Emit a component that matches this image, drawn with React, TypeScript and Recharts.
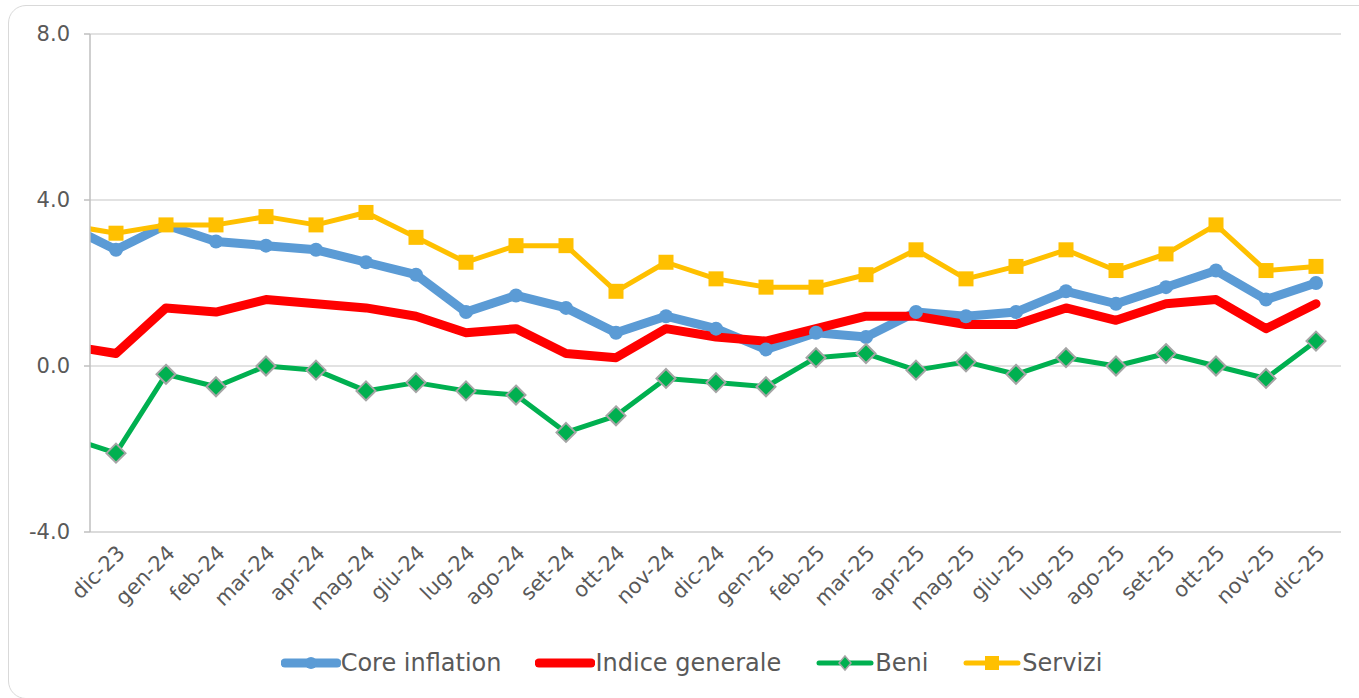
// @ts-nocheck
import React from 'react';
import { LineChart, Line, XAxis, YAxis, CartesianGrid } from 'recharts';

// first month (nov-23) sits outside the visible axis, only its segment shows
const months = [
  'nov-23', 'dic-23', 'gen-24', 'feb-24', 'mar-24', 'apr-24', 'mag-24', 'giu-24',
  'lug-24', 'ago-24', 'set-24', 'ott-24', 'nov-24', 'dic-24', 'gen-25', 'feb-25',
  'mar-25', 'apr-25', 'mag-25', 'giu-25', 'lug-25', 'ago-25', 'set-25', 'ott-25',
  'nov-25', 'dic-25',
];

const coreInflation = [
  3.4, 2.8, 3.4, 3.0, 2.9, 2.8, 2.5, 2.2, 1.3, 1.7, 1.4, 0.8, 1.2, 0.9, 0.4, 0.8,
  0.7, 1.3, 1.2, 1.3, 1.8, 1.5, 1.9, 2.3, 1.6, 2.0,
];
const indiceGenerale = [
  0.5, 0.3, 1.4, 1.3, 1.6, 1.5, 1.4, 1.2, 0.8, 0.9, 0.3, 0.2, 0.9, 0.7, 0.6, 0.9,
  1.2, 1.2, 1.0, 1.0, 1.4, 1.1, 1.5, 1.6, 0.9, 1.5,
];
const beni = [
  -1.7, -2.1, -0.2, -0.5, 0.0, -0.1, -0.6, -0.4, -0.6, -0.7, -1.6, -1.2, -0.3, -0.4, -0.5, 0.2,
  0.3, -0.1, 0.1, -0.2, 0.2, 0.0, 0.3, 0.0, -0.3, 0.6,
];
const servizi = [
  3.4, 3.2, 3.4, 3.4, 3.6, 3.4, 3.7, 3.1, 2.5, 2.9, 2.9, 1.8, 2.5, 2.1, 1.9, 1.9,
  2.2, 2.8, 2.1, 2.4, 2.8, 2.3, 2.7, 3.4, 2.3, 2.4,
];

const yTicks = [-4, 0, 4, 8];

const data = months.map((m, i) => ({
  idx: i,
  mese: m,
  core: coreInflation[i],
  indice: indiceGenerale[i],
  beni: beni[i],
  servizi: servizi[i],
}));

const xTicks = months.slice(1).map((_, i) => i + 1);

const FONT = '"DejaVu Sans", Verdana, sans-serif';
const BLUE = '#5B9BD5';
const RED = '#FF0000';
const GREEN = '#00B050';
const YELLOW = '#FFC000';

const CircleDot = (props) => {
  const { cx, cy, index } = props;
  if (cx == null || cy == null) return <g key={`c${index}`} />;
  return <circle key={`c${index}`} cx={cx} cy={cy} r={7} fill={BLUE} />;
};

const DiamondDot = (props) => {
  const { cx, cy, index } = props;
  if (cx == null || cy == null) return <g key={`d${index}`} />;
  const s = 9.5;
  return (
    <path
      key={`d${index}`}
      d={`M${cx},${cy - s} L${cx + s},${cy} L${cx},${cy + s} L${cx - s},${cy} Z`}
      fill={GREEN}
      stroke="#A5A5A5"
      strokeWidth={2}
    />
  );
};

const SquareDot = (props) => {
  const { cx, cy, index } = props;
  if (cx == null || cy == null) return <g key={`s${index}`} />;
  const s = 7.5;
  return <rect key={`s${index}`} x={cx - s} y={cy - s} width={s * 2} height={s * 2} fill={YELLOW} />;
};

const MonthTick = ({ x, y, payload }) => (
  <g transform={`translate(${x + 5},${y + 9})`}>
    <text
      x={0}
      y={0}
      dy="0.35em"
      textAnchor="end"
      transform="rotate(-45)"
      fill="#595959"
      fontSize={21}
      fontFamily={FONT}
    >
      {months[payload.value]}
    </text>
  </g>
);

const legendItems = [
  { name: 'Core inflation', color: BLUE, width: 9, marker: 'circle' },
  { name: 'Indice generale', color: RED, width: 9, marker: null },
  { name: 'Beni', color: GREEN, width: 5, marker: 'diamond' },
  { name: 'Servizi', color: YELLOW, width: 5, marker: 'square' },
];

function LegendIcon({ item }) {
  return (
    <svg width={60} height={20} style={{ display: 'block' }}>
      <line x1={4} y1={10} x2={56} y2={10} stroke={item.color} strokeWidth={item.width} strokeLinecap="round" />
      {item.marker === 'circle' && <circle cx={30} cy={10} r={6} fill={item.color} />}
      {item.marker === 'diamond' && (
        <path d="M30,3 L36,10 L30,17 L24,10 Z" fill={item.color} stroke="#A5A5A5" strokeWidth={1.5} />
      )}
      {item.marker === 'square' && <rect x={23} y={3} width={14} height={14} fill={item.color} />}
    </svg>
  );
}

export default function App() {
  return (
    <div style={{ position: 'absolute', left: 0, top: 0, width: 1359, height: 698, overflow: 'hidden', background: '#fff' }}>
      <div
        style={{
          position: 'absolute',
          left: 8,
          top: 5,
          width: 1370,
          height: 694,
          border: '1.5px solid #d9d9d9',
          borderRadius: 18,
          boxSizing: 'border-box',
        }}
      />
      <div style={{ position: 'absolute', left: 0, top: 0 }}>
        <LineChart width={1359} height={698} data={data} margin={{ top: 34, right: 18, bottom: 86, left: 0 }}>
          <CartesianGrid vertical={false} stroke="#d9d9d9" strokeWidth={1.5} />
          <XAxis
            type="number"
            dataKey="idx"
            domain={[0.48, 25.5]}
            allowDataOverflow
            ticks={xTicks}
            interval={0}
            height={80}
            axisLine={{ stroke: '#d9d9d9', strokeWidth: 1.5 }}
            tickLine={false}
            tick={<MonthTick />}
          />
          <YAxis
            domain={[-4, 8]}
            ticks={yTicks}
            width={90}
            allowDataOverflow
            tickFormatter={(v) => v.toFixed(1)}
            axisLine={{ stroke: '#bfbfbf', strokeWidth: 1.5 }}
            tickLine={{ stroke: '#bfbfbf', strokeWidth: 1.5 }}
            tickSize={6}
            tickMargin={14}
            tick={{ fill: '#595959', fontSize: 21, fontFamily: FONT }}
          />
          <Line
            type="linear"
            dataKey="core"
            stroke={BLUE}
            strokeWidth={9}
            strokeLinejoin="round"
            strokeLinecap="round"
            dot={CircleDot}
            isAnimationActive={false}
          />
          <Line
            type="linear"
            dataKey="indice"
            stroke={RED}
            strokeWidth={9}
            strokeLinejoin="round"
            strokeLinecap="round"
            dot={false}
            isAnimationActive={false}
          />
          <Line
            type="linear"
            dataKey="beni"
            stroke={GREEN}
            strokeWidth={5}
            strokeLinejoin="round"
            dot={DiamondDot}
            isAnimationActive={false}
          />
          <Line
            type="linear"
            dataKey="servizi"
            stroke={YELLOW}
            strokeWidth={5}
            strokeLinejoin="round"
            dot={SquareDot}
            isAnimationActive={false}
          />
        </LineChart>
      </div>
      <div
        style={{
          position: 'absolute',
          left: 12,
          top: 649,
          width: 1359,
          display: 'flex',
          justifyContent: 'center',
          alignItems: 'center',
          fontFamily: FONT,
          fontSize: 24,
          color: '#595959',
        }}
      >
        {legendItems.map((item, i) => (
          <div key={item.name} style={{ display: 'flex', alignItems: 'center', marginLeft: i === 0 ? 0 : 34 }}>
            <LegendIcon item={item} />
            <span style={{ lineHeight: '28px' }}>{item.name}</span>
          </div>
        ))}
      </div>
    </div>
  );
}
